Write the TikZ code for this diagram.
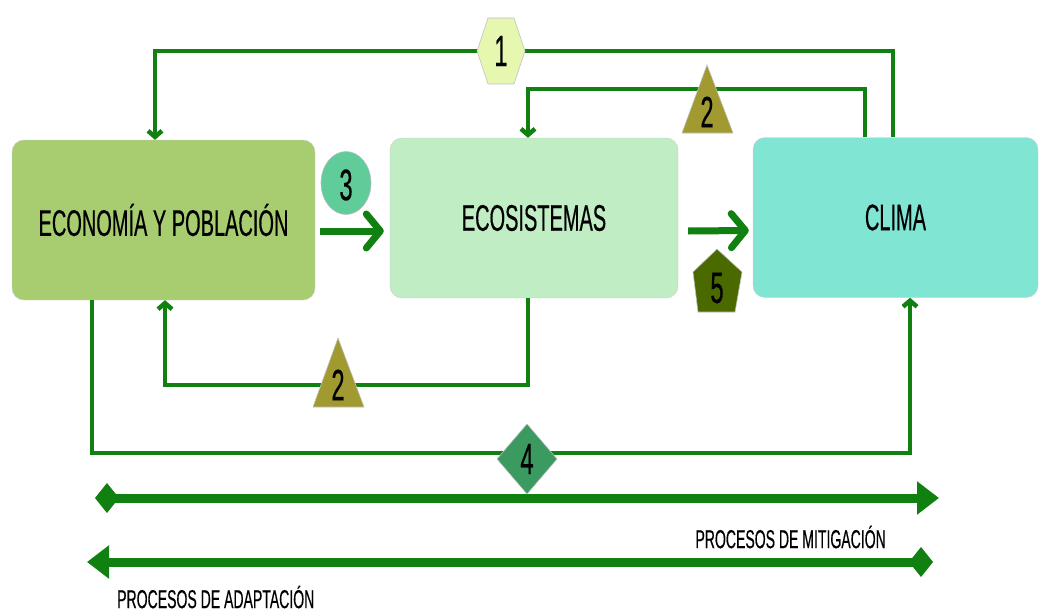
\documentclass[tikz,border=0pt]{standalone}
\usepackage{fontspec}
\setmainfont{Liberation Sans}[FakeStretch=0.54,FakeBold=0.4]
\usetikzlibrary{arrows.meta}
\definecolor{linkgreen}{RGB}{16,128,16}
\definecolor{econfill}{RGB}{168,204,112}
\definecolor{ecofill}{RGB}{192,237,196}
\definecolor{climafill}{RGB}{128,229,210}
\definecolor{hexfill}{RGB}{230,248,176}
\definecolor{trifill}{RGB}{160,154,48}
\definecolor{circfill}{RGB}{96,204,154}
\definecolor{pentfill}{RGB}{74,106,0}
\definecolor{diafill}{RGB}{58,154,96}
\tikzset{
  box/.style={draw=black!20, rounded corners=12pt, inner sep=0pt, minimum height=160pt,
    font=\fontsize{37}{44}\selectfont},
  link/.style={draw=linkgreen, line width=4.5pt,
    -{Straight Barb[length=6pt,width=14pt]}},
  flow/.style={draw=linkgreen, line width=7pt,
    -{Straight Barb[length=14pt,width=34pt,round]}},
  bigarrow/.style={draw=linkgreen, line width=9pt},
  badge/.style={draw=black!25, line width=0.6pt},
  num/.style={font=\fontsize{44}{48}\selectfont},
  caption/.style={font=\fontsize{26}{32}\selectfont, inner sep=0pt}
}
\begin{document}
\begin{tikzpicture}[x=1pt,y=-1pt]
  \useasboundingbox (0,0) rectangle (1040,615);

  \node[box, fill=econfill, minimum width=303pt] (econ) at (163.5,220) {ECONOMÍA Y POBLACIÓN};
  \node[box, fill=ecofill, minimum width=288pt] (eco) at (534,218) {ECOSISTEMAS};
  \node[box, fill=climafill, minimum width=285pt] (clima) at (895.5,217.5) {CLIMA};

  \coordinate (t1r) at (893,51);
  \coordinate (t1l) at (155,51);
  \coordinate (t2r) at (865,89);
  \coordinate (t2l) at (528,89);
  \coordinate (b2r) at (528,385);
  \coordinate (b2l) at (165,385);
  \coordinate (b4l) at (92,453);
  \coordinate (b4r) at (910,453);

  \draw[link] (t1r |- clima.north) -- (t1r) -- (t1l) -- (t1l |- econ.north);
  \draw[link] (t2r |- clima.north) -- (t2r) -- (t2l) -- (t2l |- eco.north);
  \draw[link] (b2r |- eco.south) -- (b2r) -- (b2l) -- (b2l |- econ.south);
  \draw[link] (b4l |- econ.south) -- (b4l) -- (b4r) -- (b4r |- clima.south);

  \draw[flow] ([shift={(5,11)}]econ.east) -- ([shift={(-6,13)}]eco.west);
  \draw[flow] ([shift={(10,13)}]eco.east) -- ([shift={(-4,13)}]clima.west);

  \coordinate (m1) at (95,498);
  \coordinate (m2) at (939,498);
  \coordinate (a1) at (87,562);
  \coordinate (a2) at (933,562);
  \draw[bigarrow, {Turned Square[length=24pt,width=30pt]}-{Triangle[length=22pt,width=32pt]}] (m1) -- (m2);
  \draw[bigarrow, {Triangle[length=22pt,width=32pt]}-{Turned Square[length=24pt,width=30pt]}] (a1) -- (a2);

  \filldraw[badge, fill=hexfill] (477,51) -- (488,18) -- (514,18) -- (525,51) -- (514,84) -- (488,84) -- cycle;
  \node[num] (n1) at (501,51) {1};
  \filldraw[badge, fill=trifill] (707,65) -- (733,133) -- (682,133) -- cycle;
  \node[num] (n2a) at (707,112) {2};
  \filldraw[badge, fill=circfill] (346,183) ellipse [x radius=25, y radius=31.5];
  \node[num] (n3) at (346,185) {3};
  \filldraw[badge, fill=pentfill] (717,249) -- (742,272) -- (735,312) -- (698,312) -- (693,272) -- cycle;
  \node[num] (n5) at (717,288) {5};
  \filldraw[badge, fill=trifill] (338,338) -- (364,407) -- (313,407) -- cycle;
  \node[num] (n2b) at (338,385) {2};
  \filldraw[badge, fill=diafill] (527,424) -- (557,459) -- (527,494) -- (497,459) -- cycle;
  \node[num] (n4) at (527,459) {4};

  \node[caption, anchor=east] (mitig) at (886,537) {PROCESOS DE MITIGACIÓN};
  \node[caption, anchor=west] (adapt) at (117,597) {PROCESOS DE ADAPTACIÓN};
\end{tikzpicture}
\end{document}
